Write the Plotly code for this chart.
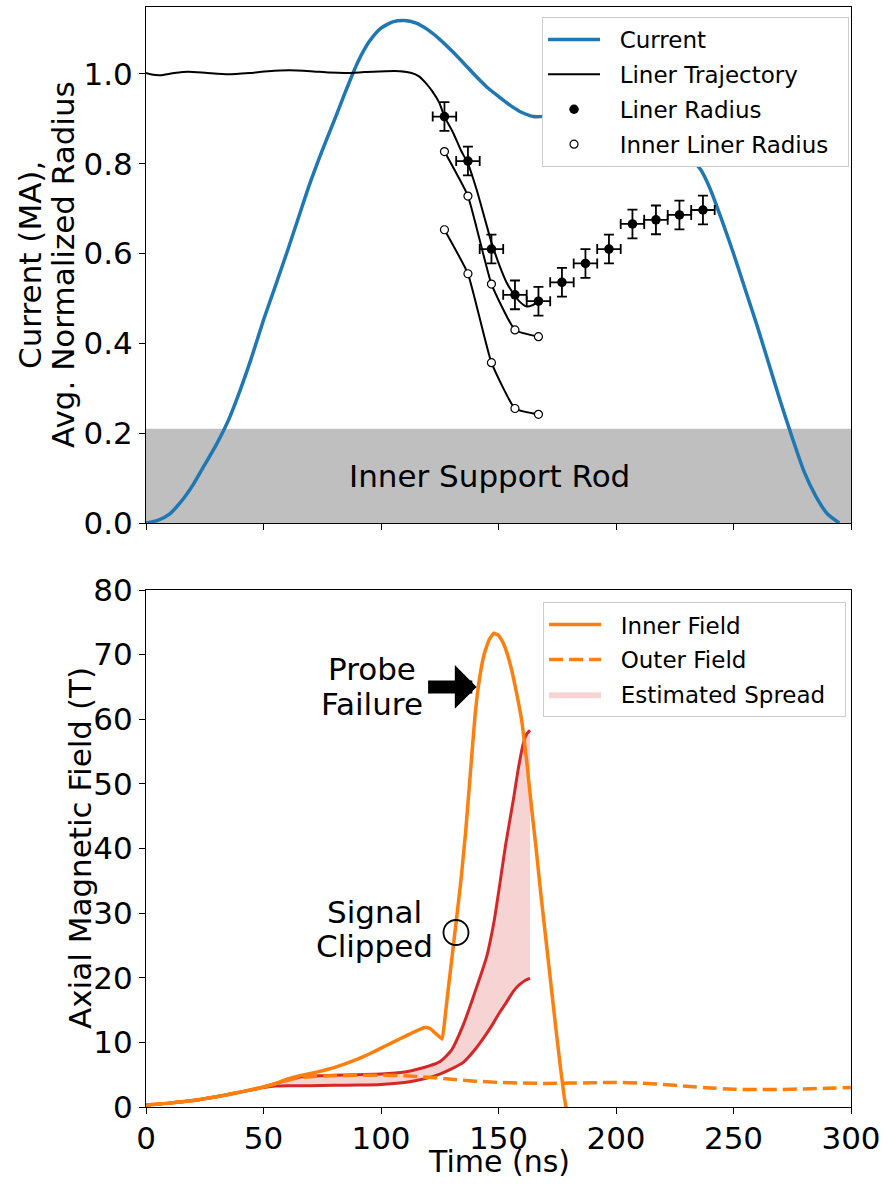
import plotly.graph_objects as go

# ---------------- top panel: current and liner radius ----------------
t_current = [0, 5, 10, 15, 20, 25, 30, 35, 40, 45, 50, 55, 60, 65, 70, 75, 80, 85, 90, 95,
             100, 105, 110, 115, 120, 125, 130, 135, 140, 145, 150, 155, 160, 165, 170, 180,
             190, 200, 210, 220, 230, 236, 240, 245, 250, 255, 260, 265, 270, 275, 280, 285,
             290, 295]
current_MA = [0.0, 0.006, 0.02, 0.048, 0.085, 0.13, 0.175, 0.228, 0.295, 0.37, 0.452, 0.527,
              0.603, 0.682, 0.76, 0.83, 0.895, 0.962, 1.025, 1.072, 1.102, 1.116, 1.119, 1.113,
              1.098, 1.077, 1.052, 1.025, 0.997, 0.971, 0.95, 0.93, 0.914, 0.905, 0.906, 0.915,
              0.92, 0.915, 0.895, 0.862, 0.82, 0.787, 0.745, 0.675, 0.60, 0.52, 0.44, 0.355,
              0.27, 0.19, 0.115, 0.06, 0.02, 0.0]

t_traj = [0, 3, 6, 12, 18, 26, 35, 44, 52, 61, 70, 78, 85, 93, 102, 108, 113, 116, 119,
          122, 124.8, 127, 130.7, 134, 137, 140.7, 144.3, 147, 150.6, 153.5, 156.3, 159, 162,
          164.5, 167]
traj_radius = [1.002, 0.998, 0.997, 1.002, 1.005, 1.002, 0.999, 1.002, 1.006, 1.008, 1.006,
               1.003, 1.002, 1.004, 1.006, 1.006, 1.002, 0.995, 0.98, 0.96, 0.936, 0.905,
               0.869, 0.83, 0.80, 0.742, 0.675, 0.625, 0.571, 0.535, 0.511, 0.493, 0.482,
               0.485, 0.494]

t_liner = [127, 137, 147, 157, 167, 177, 187, 197, 207, 217, 227, 237]
liner_radius = [0.905, 0.806, 0.61, 0.508, 0.494, 0.536, 0.578, 0.61, 0.666, 0.675, 0.686, 0.697]
liner_t_err = 5.0
liner_r_err = 0.032

t_inner = [127, 137, 147, 157, 167]
inner_radius_a = [0.827, 0.728, 0.532, 0.43, 0.415]
inner_radius_b = [0.653, 0.555, 0.357, 0.255, 0.242]

rod_radius = 0.21

# ---------------- bottom panel: axial magnetic field ----------------
t_inner_field = [0, 10, 20, 30, 40, 50, 55, 60, 65, 70, 75, 80, 85, 90, 95, 100, 105, 110,
                 114, 117, 119, 121, 123.5, 126, 127, 128, 130, 132, 134, 136, 138, 140, 142,
                 144, 146, 148, 150, 152, 154, 156, 158, 160, 162, 164, 166, 168, 170,
                 172, 174, 176, 178, 179]
inner_field = [0.3, 0.6, 1.0, 1.6, 2.3, 3.1, 3.6, 4.3, 4.8, 5.2, 5.6, 6.1, 6.7, 7.4, 8.2,
               9.1, 10.0, 10.9, 11.6, 12.1, 12.3, 12.1, 11.3, 10.5, 13.0, 16.3, 22.5, 28.7,
               35.0, 42.5, 51.5, 60.5, 66.5, 70.2, 72.3, 73.3, 73.0, 71.8, 69.8, 67.0, 63.5,
               59.5, 53.5, 46.5, 40.0, 33.0, 26.5, 20.0, 13.5, 7.2, 1.5, -0.5]

t_outer_field = [0, 10, 20, 30, 40, 50, 55, 60, 65, 70, 80, 90, 100, 110, 120, 130, 140,
                 150, 160, 170, 180, 190, 200, 210, 220, 230, 240, 250, 260, 270, 280, 290, 300]
outer_field = [0.3, 0.6, 1.0, 1.6, 2.3, 3.1, 3.6, 4.1, 4.5, 4.7, 4.85, 4.9, 4.9, 4.85, 4.6,
               4.3, 4.0, 3.8, 3.7, 3.65, 3.7, 3.75, 3.8, 3.7, 3.5, 3.2, 2.95, 2.75, 2.7, 2.7,
               2.8, 2.9, 3.0]

t_spread = [0, 10, 20, 30, 40, 50, 55, 60, 65, 70, 80, 90, 100, 110, 115, 120, 125, 130,
            135, 140, 145, 148, 150.6, 153, 156.3, 158.5, 160.6, 162, 163.4]
spread_low = [0.3, 0.6, 1.0, 1.6, 2.3, 3.0, 3.25, 3.3, 3.3, 3.3, 3.35, 3.4, 3.5, 3.8, 4.1,
              4.5, 5.1, 5.9, 6.9, 8.9, 11.4, 13.1, 14.7, 16.0, 17.9, 18.8, 19.4, 19.7, 19.9]
spread_high = [0.3, 0.6, 1.0, 1.6, 2.3, 3.1, 3.6, 4.2, 4.6, 4.8, 4.9, 5.0, 5.1, 5.4, 5.8,
               6.3, 7.0, 8.8, 12.7, 17.8, 23.3, 28.5, 34.6, 40.5, 47.5, 52.5, 56.3, 57.7, 58.3]

# annotation anchors
clip_time, clip_field = 131.9, 27.0
failure_tip_time, failure_tail_time, failure_field = 140.7, 119.4, 65.0

BLUE = "#1f77b4"
ORANGE = "#ff7f0e"
RED = "#d62728"
FONT = "DejaVu Sans"


def label(name):
    # pad legend entries so the frame keeps some air around symbols and text
    return "\u00a0\u00a0" + name + "\u00a0\u00a0"


fig = go.Figure()

# current
fig.add_trace(go.Scatter(x=t_current, y=current_MA, mode="lines", name=label("Current"),
                         line=dict(color=BLUE, width=3.5, shape="spline", smoothing=0.6),
                         xaxis="x", yaxis="y", legend="legend", legendgroup="g1"))
# liner trajectory
fig.add_trace(go.Scatter(x=t_traj, y=traj_radius, mode="lines", name=label("Liner Trajectory"),
                         line=dict(color="black", width=2, shape="spline", smoothing=0.6),
                         xaxis="x", yaxis="y", legend="legend", legendgroup="g2"))
# inner liner connecting lines
for r in (inner_radius_a, inner_radius_b):
    fig.add_trace(go.Scatter(x=t_inner, y=r, mode="lines", showlegend=False,
                             line=dict(color="black", width=2, shape="spline", smoothing=0.4),
                             xaxis="x", yaxis="y", hoverinfo="skip"))
# liner radius with error bars
fig.add_trace(go.Scatter(x=t_liner, y=liner_radius, mode="markers", name=label("Liner Radius"),
                         marker=dict(color="black", size=9.5),
                         error_x=dict(type="constant", value=liner_t_err, color="black",
                                      thickness=1.8, width=5),
                         error_y=dict(type="constant", value=liner_r_err, color="black",
                                      thickness=1.8, width=5),
                         xaxis="x", yaxis="y", legend="legend", legendgroup="g3"))
# inner liner radius markers
fig.add_trace(go.Scatter(x=t_inner * 2, y=inner_radius_a + inner_radius_b, mode="markers",
                         name=label("Inner Liner Radius"),
                         marker=dict(color="white", size=8,
                                     line=dict(color="black", width=1.2)),
                         xaxis="x", yaxis="y", legend="legend", legendgroup="g4"))

# estimated spread band
fig.add_trace(go.Scatter(x=t_spread, y=spread_low, mode="lines", showlegend=False,
                         line=dict(color=RED, width=3, shape="spline", smoothing=0.6),
                         xaxis="x2", yaxis="y2", hoverinfo="skip"))
fig.add_trace(go.Scatter(x=t_spread, y=spread_high, mode="lines",
                         name=label("Estimated Spread"),
                         fill="tonexty", fillcolor="rgba(214,39,40,0.2)",
                         line=dict(color="rgba(0,0,0,0)", width=0, shape="spline", smoothing=0.6),
                         xaxis="x2", yaxis="y2", legend="legend2", legendgroup="h3",
                         legendrank=3))
fig.add_trace(go.Scatter(x=t_spread, y=spread_high, mode="lines", showlegend=False,
                         line=dict(color=RED, width=3, shape="spline", smoothing=0.6),
                         xaxis="x2", yaxis="y2", hoverinfo="skip"))
# inner field
fig.add_trace(go.Scatter(x=t_inner_field, y=inner_field, mode="lines", name=label("Inner Field"),
                         line=dict(color=ORANGE, width=3.5, shape="spline", smoothing=0.3),
                         xaxis="x2", yaxis="y2", legend="legend2", legendgroup="h1",
                         legendrank=1))
# outer field
fig.add_trace(go.Scatter(x=t_outer_field, y=outer_field, mode="lines", name=label("Outer Field"),
                         line=dict(color=ORANGE, width=3.5, dash="14px,6px",
                                   shape="spline", smoothing=0.5),
                         xaxis="x2", yaxis="y2", legend="legend2", legendgroup="h2",
                         legendrank=2))
# signal clipped marker
fig.add_trace(go.Scatter(x=[clip_time], y=[clip_field], mode="markers", showlegend=False,
                         marker=dict(symbol="circle-open", size=25, color="black",
                                     line=dict(width=1.8)),
                         xaxis="x2", yaxis="y2", hoverinfo="skip"))

# inner support rod
fig.add_shape(type="rect", xref="x domain", yref="y", x0=0, x1=1, y0=0, y1=rod_radius,
              fillcolor="#bfbfbf", line=dict(width=0), layer="below")
fig.add_annotation(x=146, y=rod_radius / 2, xref="x", yref="y", text="Inner Support Rod",
                   showarrow=False, font=dict(size=31, color="black"))

# probe failure
fig.add_annotation(x=96.2, y=failure_field, xref="x2", yref="y2", text="Probe",
                   showarrow=False, yshift=18, font=dict(size=31, color="black"))
fig.add_annotation(x=96.2, y=failure_field, xref="x2", yref="y2", text="Failure",
                   showarrow=False, yshift=-17, font=dict(size=31, color="black"))
fig.add_annotation(x=failure_tip_time, y=failure_field, ax=failure_tail_time, ay=failure_field,
                   xref="x2", yref="y2", axref="x2", ayref="y2", text="", showarrow=True,
                   arrowhead=1, arrowwidth=13, arrowsize=0.56, arrowcolor="black", standoff=0)
# signal clipped
fig.add_annotation(x=97.4, y=27.5, xref="x2", yref="y2", text="Signal",
                   showarrow=False, yshift=17, font=dict(size=31, color="black"))
fig.add_annotation(x=97.4, y=27.5, xref="x2", yref="y2", text="Clipped",
                   showarrow=False, yshift=-17, font=dict(size=31, color="black"))

# axis titles
title_font = dict(size=31, color="black")
title_common = dict(xref="paper", yref="paper", showarrow=False, font=title_font,
                    xanchor="center", yanchor="middle")
fig.add_annotation(x=-0.1645, y=0.7655, text="Current (MA),", textangle=-90, **title_common)
fig.add_annotation(x=-0.1177, y=0.7655, text="Avg. Normalized Radius", textangle=-90,
                   **title_common)
fig.add_annotation(x=-0.0936, y=0.2355, text="Axial Magnetic Field (T)", textangle=-90,
                   **title_common)
fig.add_annotation(x=0.5, y=-0.0491, text="Time (ns)", xref="paper", yref="paper",
                   showarrow=False, xanchor="center", yanchor="middle",
                   font=dict(size=30, color="black"))

axis_common = dict(showline=True, linecolor="black", linewidth=1, mirror=True,
                   ticks="outside", ticklen=6, tickwidth=1, tickcolor="black",
                   showgrid=False, zeroline=False, automargin=False,
                   tickfont=dict(size=31, color="black"))

legend_common = dict(bgcolor="white", bordercolor="#cccccc", borderwidth=1,
                     font=dict(size=23, color="black", family=FONT), itemwidth=52,
                     traceorder="grouped", tracegroupgap=2, xanchor="right", yanchor="top")

fig.update_layout(
    width=883, height=1184,
    margin=dict(l=146, r=32, t=7, b=77, autoexpand=False),
    paper_bgcolor="white", plot_bgcolor="white",
    font=dict(family=FONT, color="black"),
    xaxis=dict(domain=[0, 1], range=[0, 300], anchor="y", matches="x2",
               tickvals=[0, 50, 100, 150, 200, 250, 300], showticklabels=False, **axis_common),
    yaxis=dict(domain=[0.5309, 1], range=[0, 1.149], anchor="x",
               tickvals=[0, 0.2, 0.4, 0.6, 0.8, 1.0], tickformat=".1f", **axis_common),
    xaxis2=dict(domain=[0, 1], range=[0, 300], anchor="y2", ticklabelstandoff=-2,
                tickvals=[0, 50, 100, 150, 200, 250, 300], **axis_common),
    yaxis2=dict(domain=[0, 0.47], range=[0, 80], anchor="x2",
                tickvals=[0, 10, 20, 30, 40, 50, 60, 70, 80], **axis_common),
    legend=dict(x=0.9972, y=0.9909, **legend_common),
    legend2=dict(x=0.993, y=0.459, **legend_common),
)

fig.write_html("out.html")
